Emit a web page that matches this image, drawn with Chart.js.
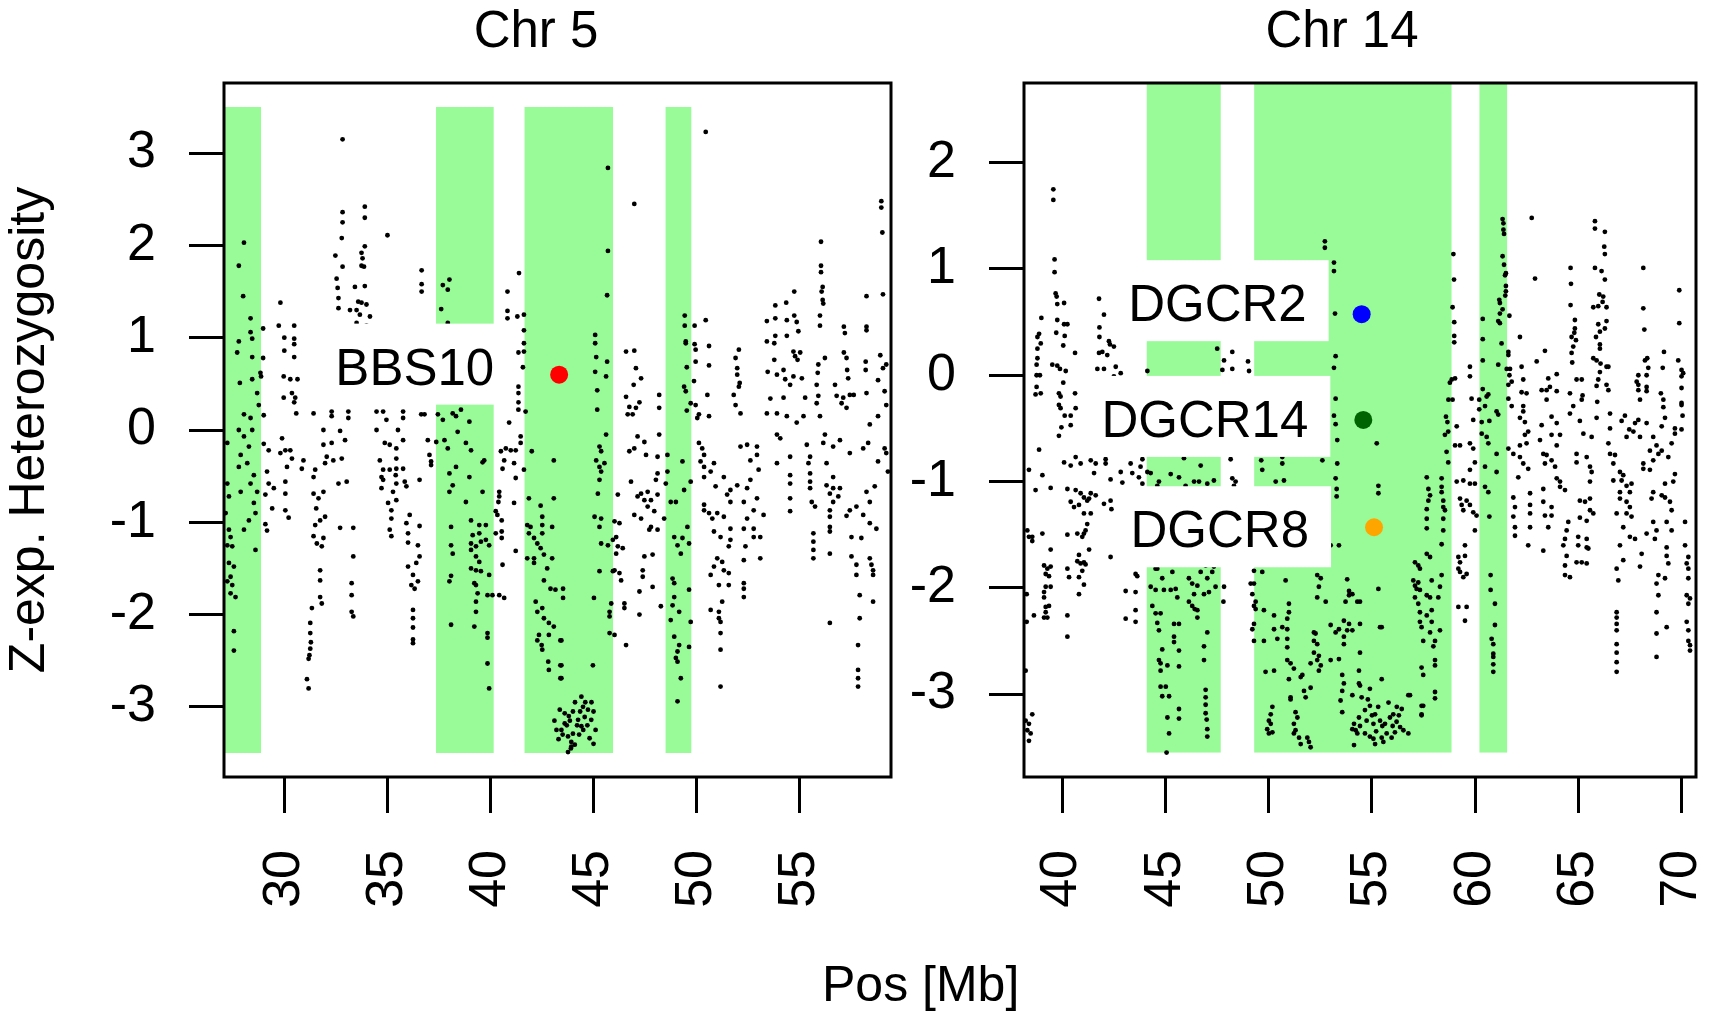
<!DOCTYPE html>
<html lang="en">
<head>
<meta charset="utf-8">
<title>Z-exp. Heterozygosity, Chr 5 and Chr 14</title>
<script src="https://cdn.jsdelivr.net/npm/chart.js@4.4.1/dist/chart.umd.min.js"></script>
<style>
  html, body { margin: 0; padding: 0; background: #fff; }
  body { position: relative; width: 1719px; height: 1013px; overflow: hidden;
         font-family: "Liberation Sans", Arial, Helvetica, sans-serif; color: #000; }
  #chr5 { position: absolute; left: 0; top: 0; }
  #chr14 { position: absolute; left: 900px; top: 0; }
  .txt { position: absolute; white-space: nowrap; }
  .panelTitle { font-size: 51px; line-height: 51px; top: 4px; transform: translateX(-50%); }
</style>
</head>
<body>
<canvas id="chr5" width="900" height="1013"></canvas>
<canvas id="chr14" width="819" height="1013"></canvas>
<div class="txt panelTitle" style="left:536px">Chr 5</div>
<div class="txt panelTitle" style="left:1342px">Chr 14</div>
<div class="txt" style="left:822px; top:959px; font-size:50px; line-height:50px">Pos [Mb]</div>
<script>
// ---- data: [position in Mb, Z] ----
const chr5Points = [
  [28.02,2.03],[27.77,1.78],[27.98,1.45],[28.34,1.21],[27.77,0.96],[28.34,1.06],[28.42,0.99],[27.69,0.84],[28.42,0.79],[27.82,0.51],
  [28.42,0.55],[28.66,0.4],[28.74,0.27],[28.02,0.17],[28.34,0.13],[28.98,0.16],[28.95,1.1],[28.82,0.62],[28.85,0.58],[28.95,0.78],
  [29.79,1.38],[29.71,1.13],[30.46,1.13],[29.98,1.0],[30.46,0.99],[30.46,0.93],[29.98,0.86],[30.46,0.79],[29.95,0.58],[30.27,0.55],
  [30.62,0.55],[29.95,0.35],[30.35,0.4],[30.51,0.35],[30.46,0.3],[30.56,0.18],
  [32.81,3.15],[32.81,2.36],[32.81,2.25],[32.77,2.08],[33.89,2.42],[33.89,2.3],[34.99,2.11],[32.46,1.89],[32.81,1.77],[33.89,1.99],
  [33.73,1.92],[33.78,1.86],[33.73,1.78],[33.85,1.77],[32.52,1.64],[32.57,1.54],[32.61,1.43],[32.61,1.32],[33.41,1.55],[33.89,1.56],
  [33.57,1.39],[33.73,1.38],[33.97,1.36],[33.17,1.3],[33.49,1.3],[33.65,1.25],[34.14,1.23],[33.49,1.16],[33.97,1.13],
  [36.65,1.73],[36.65,1.58],[36.65,1.5],[37.68,1.57],[38.0,1.63],[37.92,1.52],[37.6,1.31],[37.92,1.16],
  [40.82,1.5],[41.38,1.7],[40.82,1.29],[40.82,1.21],[41.3,1.23],[41.62,1.25],[41.62,1.08],[41.62,0.94],[41.35,0.84],[41.62,0.85],
  [41.57,0.68],[41.35,0.47],[41.35,0.4],[41.35,0.3],[41.35,0.22],[41.7,0.2],[40.9,0.08],
  [31.4,0.18],[32.28,0.2],[32.28,0.15],[33.09,0.2],[33.09,0.13],[34.46,0.2],[34.78,0.2],[34.94,0.11],[35.75,0.2],[35.75,0.13],
  [36.63,0.17],[36.79,0.17],[37.44,0.17],[37.68,0.11],[38.16,0.18],[38.56,0.22],[38.97,0.09],[38.32,0.15],[31.88,0.0],[32.69,-0.01],
  [34.46,0.0],[35.5,0.0],[27.77,0.0],[28.42,0.0],
  [45.7,2.84],[46.98,2.45],[50.45,3.23],[45.7,1.94],[45.66,1.46],[45.08,1.03],[45.08,0.94],[45.13,0.79],[45.08,0.63],[45.18,0.43],
  [45.18,0.22],[45.66,0.74],[45.61,0.58],[46.58,0.85],[46.98,0.86],[47.06,0.67],[47.31,0.56],[46.95,0.49],[46.58,0.36],[46.74,0.25],
  [47.06,0.24],[47.23,0.3],[46.66,0.17],[46.9,0.17],[48.19,0.38],[48.19,0.24],[49.43,1.24],[49.43,1.13],[49.48,0.96],[49.48,0.94],
  [49.53,0.68],[49.4,0.47],[49.48,0.42],[49.53,0.21],[49.91,1.13],[49.91,0.93],[49.96,0.87],[49.96,0.74],[49.88,0.53],[50.45,1.19],
  [50.61,0.91],[50.61,0.7],[50.53,0.38],[50.61,0.15],[49.72,0.29],[49.96,0.27],[50.12,0.17],[50.04,0.13],
  [52.06,0.87],[51.9,0.78],[51.98,0.67],[51.98,0.6],[52.1,0.51],[52.06,0.47],[51.81,0.38],[51.9,0.27],[52.14,0.18],
  [53.42,1.18],[53.83,1.21],[53.83,1.35],[54.36,1.38],[54.39,1.19],[54.87,1.17],[54.75,1.5],[54.75,1.24],[53.42,0.96],[53.83,1.02],
  [53.78,0.94],[54.39,1.02],[54.95,1.07],[53.78,0.76],[54.71,0.85],[54.79,0.8],[54.91,0.76],[55.04,0.84],[53.46,0.63],[53.91,0.6],
  [54.23,0.65],[54.31,0.55],[54.71,0.58],[55.12,0.56],[54.55,0.49],[53.59,0.34],[54.23,0.35],[55.28,0.35],[53.42,0.18],[53.91,0.18],
  [54.39,0.15],[55.2,0.15],[54.87,0.08],
  [56.05,2.04],[56.05,1.78],[56.05,1.71],[56.13,1.55],[56.08,1.5],[56.13,1.41],[56.16,1.37],[56.0,1.24],[56.0,1.13],[55.92,0.71],
  [55.89,0.62],[55.84,0.49],[55.92,0.37],[55.84,0.29],[56.0,0.15],[56.24,0.78],[57.16,1.12],[57.21,1.05],[57.16,0.84],[57.29,0.78],
  [57.32,0.65],[57.37,0.56],[56.73,0.49],[56.81,0.37],[57.13,0.35],[57.45,0.38],[57.64,0.38],[57.05,0.29],[57.29,0.24],[58.26,1.45],
  [58.26,1.12],[58.26,1.08],[58.22,0.74],[58.22,0.65],[58.98,2.48],[58.98,2.41],[59.03,2.14],[59.06,1.47],[58.93,0.81],[59.22,0.71],
  [59.06,0.67],[58.82,0.54],[58.26,0.4],[59.14,0.42],[59.22,0.27],[58.82,0.15],[58.42,0.06],
  [27.21,-0.14],[27.86,-0.27],[28.26,-0.18],[28.18,-0.36],[28.5,-0.49],[27.86,-0.67],[28.34,-0.58],[28.66,-0.67],[27.21,-0.58],[27.29,-0.72],
  [27.13,-0.9],[27.29,-1.08],[27.37,-1.16],[27.21,-1.25],[27.45,-1.26],[27.29,-1.44],[27.53,-1.48],[27.37,-1.59],[27.21,-1.64],[27.45,-1.68],
  [27.37,-1.77],[27.61,-1.81],[28.02,-1.08],[28.58,-0.9],[28.58,-1.3],[28.5,-0.79],[28.26,-0.98],[27.53,-2.18],[27.53,-2.39],[27.77,-0.4],
  [28.02,-0.07],
  [28.98,-0.15],[29.22,-0.22],[29.87,-0.09],[29.79,-0.25],[30.03,-0.22],[30.27,-0.22],[30.35,-0.31],[30.11,-0.4],[29.14,-0.45],[29.22,-0.58],
  [29.06,-0.7],[29.47,-0.63],[30.03,-0.56],[30.03,-0.69],[29.39,-0.85],[30.03,-0.87],[30.19,-0.95],[29.06,-1.02],[29.14,-1.09],[30.83,-0.42],
  [30.91,-0.33],[31.48,-0.43],[31.4,-0.51],
  [31.4,-0.69],[31.88,-0.67],[31.64,-0.74],[31.53,-0.85],[31.96,-0.94],[31.72,-0.98],[31.48,-1.03],[31.4,-1.15],[31.88,-1.17],[31.56,-1.23],
  [31.8,-1.26],[32.69,-1.06],[33.33,-1.06],[33.33,-1.37],[31.72,-1.52],[31.72,-1.63],[33.25,-1.66],[33.25,-1.79],[31.72,-1.81],[31.8,-1.88],
  [33.25,-1.97],[33.33,-2.02],[31.32,-1.93],[31.24,-2.09],[31.24,-2.2],[31.27,-2.3],[31.24,-2.37],[31.2,-2.44],[31.16,-2.48],[31.08,-2.7],
  [31.16,-2.8],[31.96,-0.36],[32.04,-0.29],[32.36,-0.33],[32.77,-0.31],[32.93,-0.11],[32.61,-0.58],[33.01,-0.56],[31.88,-0.16],[32.28,-0.14],
  [34.62,-0.33],[34.86,-0.14],[35.1,-0.16],[35.42,-0.2],[35.75,-0.11],[35.42,-0.31],[34.78,-0.43],[35.1,-0.43],[35.42,-0.42],[35.75,-0.42],
  [34.7,-0.51],[34.78,-0.54],[35.39,-0.49],[35.42,-0.58],[35.83,-0.56],[35.91,-0.61],[34.7,-0.63],[35.26,-0.67],[36.55,-0.54],[35.02,-0.79],
  [35.42,-0.76],[35.18,-0.87],[35.18,-0.96],[35.1,-1.08],[35.18,-1.15],[36.07,-0.92],[35.91,-1.01],[36.55,-1.04],[35.99,-1.12],[35.99,-1.22],
  [36.47,-1.25],[36.55,-1.37],[36.39,-1.44],[35.99,-1.48],[36.23,-1.57],[36.47,-1.64],[36.15,-1.68],[36.31,-1.72],[36.23,-1.95],[36.23,-2.04],
  [36.23,-2.14],[36.23,-2.27],[36.23,-2.31],[36.95,-0.11],[37.03,-0.27],[37.11,-0.34],[37.11,-0.38],
  [37.36,-0.13],[37.76,-0.11],[37.92,-0.2],[38.4,-0.02],[38.8,-0.14],[39.05,-0.22],[38.32,-0.4],[38.0,-0.47],[38.97,-0.51],[38.16,-0.6],
  [38.0,-0.67],[39.61,-0.67],[38.8,-0.78],[39.05,-0.98],[39.45,-1.03],[39.77,-1.03],[38.08,-1.05],[39.13,-1.14],[39.45,-1.12],[39.05,-1.23],
  [39.29,-1.26],[39.53,-1.21],[39.77,-1.19],[39.93,-1.25],[38.08,-1.25],[38.16,-1.34],[39.05,-1.3],[39.29,-1.37],[39.45,-1.43],[39.05,-1.5],
  [39.29,-1.52],[39.53,-1.53],[39.93,-1.57],[38.08,-1.58],[38.0,-1.64],[39.21,-1.66],[39.29,-1.68],[39.37,-1.77],[39.85,-1.79],[40.09,-1.79],
  [39.29,-1.86],[39.29,-1.97],[39.21,-2.13],[38.08,-2.11],[39.85,-2.2],[39.85,-2.25],[39.85,-2.53],[39.93,-2.8],[39.69,-0.33],[39.61,-0.35],
  [40.5,-0.23],[40.74,-0.2],[40.98,-0.22],[41.22,-0.22],[40.66,-0.33],[41.14,-0.36],[40.58,-0.42],[41.46,-0.07],[41.46,-0.14],[41.62,-0.43],
  [41.22,-0.52],[40.42,-0.67],[40.42,-0.72],[40.38,-0.78],[40.25,-0.88],[40.33,-0.92],[40.54,-0.98],[41.14,-0.79],[40.54,-1.1],[40.54,-1.17],
  [40.25,-1.12],[41.22,-1.31],[40.58,-1.46],[40.42,-1.79],[40.66,-1.82],
  [42.0,-0.23],[43.07,-0.33],[41.86,-0.74],[43.07,-0.74],[42.43,-0.82],[42.51,-0.94],[41.78,-1.03],[41.94,-1.05],[42.51,-1.03],[42.99,-1.05],
  [41.86,-1.12],[42.11,-1.17],[42.51,-1.12],[42.27,-1.23],[42.43,-1.28],[42.59,-1.35],[42.99,-1.39],[41.78,-1.39],[42.11,-1.39],[42.11,-1.44],
  [42.75,-1.5],[42.59,-1.63],[42.91,-1.72],[43.15,-1.73],[42.19,-1.86],[42.51,-1.93],[42.27,-1.97],[42.59,-2.04],[42.83,-2.09],[43.07,-2.13],
  [42.35,-2.22],[42.83,-2.22],[42.27,-2.28],[42.48,-2.33],[42.51,-2.38],[42.8,-2.51],[42.83,-2.6],[43.39,-2.28],[43.39,-2.55],[43.39,-2.69],
  [45.61,-0.05],[45.29,-0.18],[45.37,-0.23],[45.13,-0.33],[45.29,-0.4],[45.37,-0.45],[45.53,-0.36],[45.29,-0.54],[45.21,-0.69],[45.05,-0.94],
  [45.37,-0.96],[45.29,-1.05],[45.37,-1.23],[45.7,-1.25],[45.29,-1.53],[45.94,-1.53],[43.52,-1.72],[43.52,-1.82],[45.02,-1.82],[43.44,-2.28],
  [43.44,-2.55],[44.97,-2.55],[43.44,-2.69],
  [43.36,-3.03],[43.6,-3.07],[44.41,-2.89],[44.49,-3.0],[44.57,-3.11],[44.25,-3.14],[44.41,-3.21],[44.73,-3.03],[44.89,-3.14],[43.6,-3.18],
  [44.0,-3.29],[43.76,-3.32],[43.92,-3.38],[44.09,-3.41],[44.81,-3.34],[43.76,-3.49],[43.92,-3.43],[43.44,-3.25],[43.1,-3.15],[43.2,-3.25],
  [43.3,-3.35],[43.5,-3.3],[43.7,-3.2],[43.8,-3.1],[44.0,-3.05],[44.1,-2.95],[44.2,-3.2],[44.3,-3.3],[44.6,-2.95],[44.7,-3.2],
  [44.9,-2.95],[45.0,-3.05],[45.1,-3.25],[45.0,-3.4],[44.5,-3.25],[43.9,-3.45],[43.85,-3.15],[44.35,-3.05],
  [46.18,-0.7],[46.02,-0.99],[46.26,-1.01],[46.1,-1.16],[45.94,-1.19],[46.18,-1.26],[46.42,-1.28],[46.1,-1.34],[46.02,-1.52],[46.26,-1.55],
  [46.34,-1.63],[45.86,-1.88],[45.78,-1.97],[45.78,-2.02],[46.5,-1.88],[46.5,-1.93],[47.23,-2.0],[45.78,-2.2],[46.02,-2.22],[46.58,-2.33],
  [46.74,-0.23],[47.14,-0.07],[47.55,-0.27],[46.98,-0.2],[46.82,-0.56],[47.31,-0.69],[47.63,-0.67],[47.14,-0.72],[47.47,-0.76],[47.79,-0.76],
  [48.11,-0.7],[47.63,-0.83],[47.95,-0.88],[48.43,-0.96],[47.79,-1.05],[47.71,-1.08],[48.11,-1.08],[47.47,-1.37],[47.87,-1.35],[47.39,-1.52],
  [47.39,-1.59],[47.87,-1.7],[47.23,-1.75],[48.27,-1.91],[46.98,-0.92],[47.31,-0.96],[48.03,-0.54],[48.51,-0.58],[48.11,-0.47],[48.59,-0.45],
  [48.11,-0.29],[48.19,-0.05],[47.47,-0.13],
  [49.32,-0.34],[48.59,-0.27],[48.75,-0.78],[49.0,-0.78],[49.4,-0.65],[49.72,-0.56],[49.56,-1.05],[48.92,-1.16],[49.08,-1.25],[49.32,-1.17],
  [49.64,-1.23],[49.24,-1.34],[48.84,-1.61],[48.92,-1.66],[49.64,-1.73],[48.92,-1.81],[48.84,-1.9],[49.16,-1.97],[48.75,-2.06],[49.72,-2.08],
  [48.92,-2.24],[49.16,-2.33],[49.08,-2.4],[49.64,-2.35],[49.0,-2.47],[49.08,-2.51],[49.24,-2.69],[49.08,-2.94],
  [50.12,-0.14],[50.28,-0.2],[50.37,-0.27],[50.2,-0.34],[50.37,-0.4],[50.69,-0.45],[50.37,-0.51],[50.85,-0.36],[50.93,-0.61],[50.37,-0.81],
  [50.37,-0.87],[50.61,-0.9],[51.01,-0.9],[50.77,-0.96],[51.33,-0.94],[51.49,-0.7],[51.65,-0.78],[51.65,-0.65],[51.98,-0.6],[51.33,-0.51],
  [52.14,-0.18],[52.46,-0.16],[52.94,-0.18],[52.94,-0.27],[52.62,-0.33],[53.02,-0.43],[52.62,-0.54],[52.46,-0.63],[52.94,-0.74],[52.3,-0.78],
  [52.78,-0.87],[52.46,-0.96],[53.26,-0.92],[52.3,-1.07],[52.78,-1.07],[53.1,-1.16],[52.78,-1.16],[50.85,-1.1],[51.65,-1.07],[51.65,-1.19],
  [51.17,-1.16],[51.57,-1.26],[51.01,-1.39],[51.25,-1.43],[50.85,-1.48],[51.33,-1.52],[50.69,-1.57],[51.57,-1.55],[51.09,-1.68],[51.57,-1.68],
  [52.38,-1.26],[52.3,-1.41],[53.1,-1.39],[52.3,-1.66],[52.3,-1.72],[52.3,-1.81],[51.25,-1.86],[50.69,-1.95],[51.09,-1.97],[51.09,-2.04],
  [51.17,-2.08],[51.17,-2.2],[51.17,-2.38],[51.17,-2.78],
  [53.91,-0.05],[54.07,-0.09],[54.55,-0.29],[54.55,-0.49],[54.55,-0.58],[54.55,-0.74],[54.55,-0.88],[53.91,-0.36],[55.36,-0.16],[55.44,-0.36],
  [55.52,-0.47],[55.52,-0.56],[55.52,-0.63],[55.6,-0.78],[55.76,-0.83],[55.52,-0.29],[56.16,-0.14],[56.32,-0.36],[56.64,-0.51],[56.32,-0.6],
  [56.64,-0.63],[56.97,-0.63],[56.48,-0.69],[56.89,-0.72],[56.64,-0.78],[56.24,-0.05],[56.64,-0.18],[56.97,-0.11],[57.45,-0.25],[58.1,-0.2],
  [58.34,-0.14],[58.82,-0.34],[58.66,-0.61],[58.26,-0.67],[58.42,-0.78],[57.77,-0.83],[57.45,-0.87],[57.29,-0.93],[58.1,-0.92],[58.42,-1.01],
  [58.74,-1.07],[56.48,-0.87],[56.48,-0.94],[56.48,-1.05],[56.48,-1.1],[55.68,-1.12],[55.68,-1.21],[55.68,-1.3],[55.68,-1.39],[56.48,-1.34],
  [57.53,-1.16],[58.01,-1.17],[57.53,-1.37],[57.77,-1.46],[58.42,-1.39],[58.5,-1.46],[58.58,-1.52],[58.58,-1.57],[57.77,-1.57],[57.93,-1.79],
  [58.58,-1.86],[56.48,-2.09],[57.93,-2.04],[57.85,-2.33],[57.85,-2.6],[57.85,-2.69],[57.85,-2.78],[59.14,-0.2],[59.22,-0.25],[59.3,-0.45]
];

const chr14Points = [
  [39.58,1.75],[39.58,1.65],[39.64,1.09],[39.64,0.97],[39.69,0.77],[39.74,0.74],[39.77,0.67],[40.1,0.68],[39.77,0.52],[40.1,0.48],
  [40.26,0.48],[39.72,0.4],[40.13,0.37],[40.06,0.28],[39.0,0.54],[38.89,0.39],[38.81,0.36],[38.97,0.3],[38.81,0.25],[38.81,0.16],
  [38.77,0.1],[38.77,0.0],[38.93,0.0],[38.77,-0.11],[38.72,-0.18],[38.97,-0.17],[39.53,0.1],[39.77,0.09],[39.9,0.06],[40.18,0.04],
  [40.06,-0.07],[39.85,-0.17],[39.93,-0.2],[40.63,0.21],[40.63,-0.17],[39.85,-0.28],[39.93,-0.31],[40.13,-0.38],[40.42,-0.38],[40.66,-0.31],
  [39.97,-0.49],[40.42,-0.47],
  [41.79,0.72],[42.03,0.57],[41.81,0.45],[41.81,0.36],[42.27,0.32],[42.32,0.29],[42.51,0.27],[41.79,0.21],[41.95,0.22],[42.19,0.19],
  [42.6,0.08],[41.71,0.06],[42.03,0.06],[42.84,0.02],[42.51,-0.01],[44.13,0.04],[47.51,0.25],[47.84,0.14],[48.24,0.22],[48.24,0.06],
  [47.76,0.05],[49.0,0.13],[49.05,0.04],[52.72,1.26],[52.72,1.2],[53.16,1.06],[53.16,0.98],[53.21,0.58],[53.24,0.18],[53.16,0.07],
  [53.24,-0.22],[53.16,-0.38],[53.24,-0.46],
  [58.94,1.14],[58.97,0.9],[58.9,0.64],[58.98,0.5],[58.98,0.37],[58.98,0.31],[58.86,-0.04],[59.02,-0.03],[58.77,-0.07],[58.7,-0.23],
  [58.9,-0.23],[58.58,-0.39],[58.65,-0.44],[59.1,-0.48],[59.74,0.08],[59.74,-0.01],[59.82,-0.22],[60.19,-0.23],[59.9,-0.42],[60.31,-0.44],
  [60.36,0.53],[60.36,0.34],[60.36,0.14],[60.36,-0.13],[60.55,-0.2],[60.63,-0.18],[60.19,-0.32],[60.47,-0.29],[61.03,-0.34],[61.11,-0.37],
  [60.68,-0.43],[61.32,1.47],[61.36,1.43],[61.36,1.37],[61.39,1.33],[61.32,1.12],[61.39,1.04],[61.48,0.96],[61.44,0.94],[61.48,0.84],
  [61.48,0.79],[61.45,0.75],[61.16,0.71],[61.19,0.68],[61.32,0.62],[61.19,0.58],[61.11,0.51],[61.19,0.49],[61.65,0.56],[61.27,0.3],
  [61.11,0.1],[61.6,0.22],[61.6,0.19],[61.52,0.06],[61.68,0.06],[61.65,0.0],[61.76,-0.06],[61.6,-0.09],[61.6,-0.22],[61.76,-0.29],
  [62.73,1.48],[62.89,0.91],[62.16,0.36],[62.24,0.08],[62.32,-0.04],[62.24,-0.16],[62.48,-0.17],[62.32,-0.29],[62.32,-0.34],[62.16,-0.4],
  [62.4,-0.44],[63.37,0.23],[62.97,0.13],[63.94,0.01],[63.53,-0.03],[63.61,-0.11],[63.45,-0.14],[63.21,-0.14],[63.94,-0.15],[63.45,-0.23],
  [63.69,-0.39],[63.94,-0.45],[63.21,-0.47],[64.61,1.01],[64.63,0.86],[64.61,0.66],[64.82,0.52],[64.82,0.44],[64.79,0.4],[64.87,0.33],
  [64.66,0.36],[64.74,0.27],[64.66,0.21],[64.69,0.12],[64.9,-0.04],[65.15,-0.04],[64.58,-0.17],[65.19,-0.19],[64.74,-0.29],[65.15,-0.23],
  [64.58,-0.36],[65.06,-0.43],
  [65.79,1.45],[65.79,1.38],[66.27,1.35],[66.24,1.21],[66.27,1.14],[65.79,1.01],[66.11,0.98],[66.27,0.9],[66.0,0.76],[66.19,0.74],
  [66.16,0.69],[65.71,0.64],[65.95,0.65],[66.35,0.64],[66.35,0.51],[65.95,0.48],[66.27,0.44],[65.84,0.36],[66.03,0.41],[66.03,0.29],
  [66.03,0.25],[65.71,0.16],[65.87,0.14],[66.06,0.11],[66.35,0.08],[66.44,0.08],[66.03,0.03],[65.95,-0.04],[65.87,-0.1],[66.35,-0.09],
  [66.44,-0.14],[65.9,-0.25],[65.87,-0.4],[66.52,-0.36],[66.52,-0.5],[67.24,-0.38],[67.08,-0.43],[67.45,-0.51],
  [68.13,1.01],[68.13,0.63],[68.18,0.43],[68.32,0.16],[68.21,0.14],[68.37,0.07],[68.29,0.0],[67.89,0.0],[67.81,-0.06],[67.89,-0.09],
  [67.89,-0.14],[68.29,-0.11],[68.29,-0.15],[67.97,-0.23],[67.89,-0.42],[67.73,-0.45],[68.29,-0.45],[68.98,-0.17],[69.1,-0.23],[69.1,-0.3],
  [69.13,0.22],[69.07,0.07],[69.18,-0.4],[69.02,-0.48],[69.87,0.8],[69.87,0.49],[69.82,0.14],[69.98,0.05],[70.06,0.02],[69.98,-0.01],
  [69.98,-0.12],[69.98,-0.26],[69.98,-0.28],[70.03,-0.38],[69.66,-0.5],[69.98,-0.51],
  [38.89,-0.7],[38.4,-0.89],[39.05,-0.94],[38.72,-1.08],[39.45,-1.06],[39.85,-0.57],[40.1,-0.82],[40.42,-0.85],[40.66,-0.77],[40.9,-0.83],
  [41.39,-0.8],[41.63,-0.83],[41.55,-0.92],[42.11,-0.79],[42.11,-0.83],[42.35,-0.98],[42.84,-0.91],[43.32,-0.83],[43.4,-0.92],[43.8,-0.86],
  [43.89,-0.79],[42.92,-1.01],[43.89,-1.02],[43.72,-0.96],[44.29,-0.92],
  [40.26,-1.07],[40.66,-1.08],[40.9,-1.11],[41.06,-1.15],[41.39,-1.11],[41.63,-1.13],[40.42,-1.19],[40.58,-1.24],[40.82,-1.22],[41.22,-1.18],
  [41.31,-1.16],[42.03,-1.21],[41.06,-1.3],[41.39,-1.3],[41.22,-1.4],[41.14,-1.46],[40.74,-1.49],[41.06,-1.49],[40.98,-1.52],[42.35,-1.18],
  [42.39,-1.26],
  [38.32,-1.46],[38.4,-1.52],[38.56,-1.52],[39.05,-1.49],[38.56,-1.56],[39.45,-1.64],[40.26,-1.5],[40.82,-1.69],[41.31,-1.64],[40.74,-1.75],
  [40.9,-1.77],[41.06,-1.76],[41.14,-1.78],[40.98,-1.84],[40.82,-1.9],[41.06,-1.97],[40.82,-2.06],
  [39.13,-1.79],[39.29,-1.82],[39.45,-1.8],[39.21,-1.87],[39.37,-1.89],[39.21,-1.99],[39.13,-2.04],[39.45,-1.99],[39.13,-2.09],[39.21,-2.18],
  [39.37,-2.17],[39.21,-2.23],[39.13,-2.28],[38.64,-2.26],[39.29,-2.28],[40.26,-1.82],[40.34,-1.9],[40.26,-2.26],[40.26,-2.46],[38.29,-2.06],
  [38.29,-2.32],[38.24,-2.78],[38.24,-3.25],[38.4,-3.28],[38.32,-3.34],[38.48,-3.37],[38.4,-3.44],[38.56,-3.19],
  [43.08,-2.03],[43.56,-2.04],[43.56,-2.21],[43.08,-2.29],[43.56,-2.32],[43.56,-1.87],[43.64,-1.89],[42.35,-1.71],[44.13,-0.91],
  [44.29,-1.76],[44.53,-1.82],[44.29,-1.99],[44.53,-2.02],[44.93,-2.02],[45.26,-2.02],[45.5,-2.01],[45.58,-2.09],[44.37,-2.17],[44.53,-2.24],
  [44.77,-2.24],[44.85,-1.91],[45.34,-1.85],[46.14,-1.91],[46.3,-1.96],[46.55,-1.98],[46.14,-2.13],[46.3,-2.17],[46.42,-2.2],[46.55,-2.21],
  [46.55,-2.28],[46.39,-2.06],[46.87,-2.06],[47.11,-2.04],[47.03,-1.91],[47.27,-1.85],[46.71,-1.85],[47.43,-1.99],[44.61,-2.33],[44.69,-2.4],
  [45.42,-2.34],[45.66,-2.34],[45.42,-2.46],[45.42,-2.51],[44.85,-2.58],[45.66,-2.59],[44.69,-2.68],[44.77,-2.71],[44.77,-2.78],[45.1,-2.73],
  [45.66,-2.74],[46.87,-2.55],[46.87,-2.68],[47.03,-2.42],[44.77,-2.93],[45.02,-2.93],[44.85,-3.02],[45.18,-3.02],[45.1,-3.22],[45.66,-3.14],
  [45.66,-3.23],[45.18,-3.37],[45.06,-3.55],[46.95,-2.96],[46.95,-3.03],[46.95,-3.1],[46.95,-3.18],[47.0,-3.24],[47.03,-3.33],[47.03,-3.4],
  [47.11,-1.76],[46.95,-1.79],[47.35,-1.8],[44.93,-1.71],[45.26,-1.75],[46.06,-1.71],[46.39,-1.75],[46.22,-1.77],[44.61,-1.82],[45.26,-0.93],
  [45.66,-0.96],[45.9,-0.78],[46.71,-0.85],[46.39,-1.0],[46.63,-1.0],[47.03,-1.02],[47.35,-0.99],[45.98,-1.04],[44.69,-1.0],[44.61,-1.04],
  [47.84,-1.99],[47.81,-2.13],[48.24,-0.97],[48.4,-1.0],[48.32,-1.04],[48.16,-0.79],
  [49.64,-0.8],[49.69,-0.89],[50.66,-0.77],[50.66,-0.83],[50.34,-1.0],[50.74,-0.99],[52.6,-0.8],[53.32,-0.83],[53.32,-0.61],[53.24,-0.97],
  [53.29,-1.07],[53.29,-1.14],[53.0,-1.6],[53.4,-1.6],[49.29,-1.84],[49.69,-1.85],[50.82,-1.93],[52.35,-1.88],[52.52,-1.91],[52.43,-1.99],
  [52.35,-2.09],[52.76,-2.13],[53.8,-1.92],[53.89,-2.03],[53.89,-2.07],[54.05,-2.06],[53.72,-2.13],[54.29,-2.13],[49.13,-1.96],[49.29,-1.96],
  [49.21,-2.06],[49.37,-2.13],[49.29,-2.17],[49.37,-2.2],[49.77,-2.21],[50.26,-2.26],[50.98,-2.15],[50.98,-2.23],[50.9,-2.29],[50.9,-2.39],
  [50.26,-2.39],[50.66,-2.37],[49.29,-2.34],[49.21,-2.39],[49.29,-2.5],[49.77,-2.5],[50.42,-2.48],[50.9,-2.48],[50.9,-2.56],[49.85,-2.79],
  [50.26,-2.78],[50.9,-2.68],[51.06,-2.71],[51.22,-2.76],[51.63,-2.82],[50.98,-2.86],[51.06,-3.03],[51.06,-3.05],[51.79,-3.03],[50.18,-3.12],
  [50.1,-3.19],[50.01,-3.25],[50.1,-3.28],[49.93,-3.33],[50.18,-3.36],[50.01,-3.37],[51.3,-3.17],[51.39,-3.22],[51.22,-3.28],[51.3,-3.34],
  [51.22,-3.37],[51.47,-3.41],[51.55,-3.47],[51.87,-3.41],[51.95,-3.45],[52.03,-3.5],[51.55,-2.84],[51.71,-2.97],[52.03,-2.94],[52.19,-2.5],
  [52.35,-2.53],[52.19,-2.61],[52.43,-2.64],[52.35,-2.68],[52.52,-2.73],[52.43,-2.78],[52.03,-2.71],[52.19,-2.42],[52.27,-2.43],[53.0,-2.35],
  [53.4,-2.39],[53.24,-2.42],[53.64,-2.31],[53.89,-2.34],[53.8,-2.4],[53.0,-2.68],[53.4,-2.67],[53.64,-2.46],[53.64,-2.53],[54.05,-2.4],
  [53.56,-2.82],[53.64,-2.9],[53.56,-2.97],[54.05,-3.01],[53.48,-3.06],[54.37,-2.78],[54.37,-2.9],[53.56,-3.17],[54.13,-3.28],[54.21,-3.34],
  [54.29,-3.37],[54.05,-3.33],[54.13,-3.48],[54.37,-3.22],
  [55.23,-0.64],[55.31,-1.04],[55.31,-1.11],[55.31,-2.01],[55.39,-2.37],[55.47,-2.37],[55.47,-2.86],[54.42,-2.13],[54.42,-2.34],[54.42,-2.61],
  [54.42,-2.92],[54.9,-2.95],
  [54.66,-3.15],[54.9,-3.11],[55.15,-3.19],[54.74,-3.25],[55.07,-3.28],[54.42,-3.3],[55.39,-3.25],[55.63,-3.28],[55.87,-3.22],[56.03,-3.19],
  [56.19,-3.26],[56.36,-3.31],[56.52,-3.34],[56.76,-3.37],[55.71,-3.37],[55.95,-3.41],[55.47,-3.41],[55.07,-3.42],[55.15,-3.47],[55.55,-3.45],
  [54.66,-3.37],[56.11,-3.36],[56.44,-3.14],[56.76,-3.01],[57.4,-3.11],[57.4,-3.19],[54.5,-3.03],[54.8,-3.05],[55.0,-3.2],[55.3,-3.12],
  [55.5,-3.3],[55.8,-3.08],[56.0,-3.3],[56.2,-3.12],[56.3,-3.2],[55.2,-3.35],[54.9,-3.4],
  [57.65,-0.96],[57.73,-1.07],[57.81,-1.13],[57.73,-1.18],[57.65,-1.26],[57.65,-1.35],[57.65,-1.44],[58.37,-0.97],[58.37,-1.05],[58.37,-1.1],
  [58.45,-1.18],[58.45,-1.24],[58.53,-1.27],[58.45,-1.35],[58.45,-1.46],[58.37,-1.59],[58.69,-0.82],[58.61,-0.72],[58.69,-0.53],[58.53,-0.56],
  [57.08,-1.76],[57.24,-1.79],[57.65,-1.68],[57.81,-1.71],[57.32,-1.82],[57.0,-1.93],[57.24,-1.95],[57.08,-1.98],[57.16,-2.01],[57.32,-2.02],
  [57.08,-2.09],[57.24,-2.15],[57.65,-2.07],[57.81,-2.09],[58.29,-1.99],[58.37,-1.88],[57.89,-1.93],[58.21,-2.09],[57.32,-2.23],[57.65,-2.26],
  [57.89,-2.21],[57.32,-2.32],[57.89,-2.32],[57.4,-2.37],[57.81,-2.42],[57.48,-2.5],[58.05,-2.5],[57.97,-2.55],[58.29,-2.4],[57.4,-2.75],
  [57.48,-2.82],[58.05,-2.68],[58.05,-2.73],[58.05,-2.98],[58.05,-3.04],[57.48,-3.11],[57.4,-3.2],[56.84,-3.01],
  [59.18,-1.71],[59.26,-1.76],[59.18,-1.82],[59.26,-1.85],[59.42,-1.9],[59.58,-1.87],[59.5,-1.7],[59.5,-1.6],[59.18,-2.18],[59.58,-2.18],
  [59.5,-2.31],[59.02,-0.66],[59.26,-0.66],[59.74,-0.64],[59.9,-0.69],[59.1,-1.0],[59.42,-0.99],[59.74,-1.02],[59.98,-1.02],[59.26,-1.16],
  [59.58,-1.18],[59.34,-1.22],[59.74,-1.22],[59.42,-1.27],[59.9,-1.29],[60.06,-1.32],[59.98,-1.46],[59.98,-0.82],[59.74,-0.89],[60.47,-1.05],
  [60.63,-1.1],[60.55,-0.58],[60.63,-0.64],[60.31,-0.55],[60.47,-0.86],[61.03,-0.91],[60.68,-1.33],[60.74,-1.88],[60.74,-2.02],[60.95,-2.15],
  [60.95,-2.35],[60.79,-2.48],[60.87,-2.53],[60.87,-2.62],[60.87,-2.65],[60.87,-2.72],[60.87,-2.79],[61.03,-0.74],
  [61.6,-0.69],[61.84,-0.74],[62.16,-0.77],[62.32,-0.83],[62.56,-0.88],[62.08,-0.96],[61.84,-1.15],[61.92,-1.24],[61.84,-1.33],[61.92,-1.43],
  [61.92,-1.51],[62.56,-1.6],[63.29,-1.65],[62.16,-0.66],[62.48,-0.64],[62.65,-1.11],[62.65,-1.22],[62.65,-1.3],[62.65,-1.43],[62.4,-0.56],
  [62.56,-0.53],[63.13,-0.61],[63.29,-0.74],[63.45,-0.75],[63.37,-0.83],[63.69,-0.8],[63.86,-0.86],[63.94,-0.66],[64.1,-0.56],[63.69,-0.56],
  [63.94,-0.97],[64.1,-1.0],[64.1,-1.05],[64.34,-1.08],[63.29,-1.07],[63.29,-1.19],[63.69,-1.24],[63.69,-1.32],[63.37,-1.32],[63.53,-1.43],
  [64.42,-1.46],[64.34,-1.54],[64.26,-1.6],[64.42,-1.7],[64.34,-1.79],[64.34,-1.88],[64.58,-1.9],[64.5,-1.38],
  [64.9,-0.74],[64.9,-0.82],[65.39,-0.77],[65.55,-0.86],[65.63,-0.91],[65.55,-1.0],[65.55,-1.16],[65.31,-1.19],[65.06,-1.18],[65.55,-1.27],
  [65.71,-1.3],[65.06,-1.34],[65.39,-1.37],[64.98,-1.52],[64.98,-1.6],[65.39,-1.54],[65.39,-1.62],[65.47,-1.63],[64.9,-1.76],[65.15,-1.76],
  [65.39,-1.77],[65.23,-0.55],[65.63,-0.58],[66.44,-0.64],[66.52,-0.74],[66.76,-0.75],[66.68,-0.83],[67.0,-0.91],[66.68,-0.99],[67.08,-0.99],
  [67.32,-1.04],[67.16,-0.94],[67.56,-1.02],[67.0,-1.1],[67.48,-1.1],[67.0,-1.16],[67.32,-1.19],[67.48,-1.24],[66.84,-1.3],[67.32,-1.3],
  [67.56,-1.33],[67.16,-1.43],[67.48,-1.52],[67.73,-1.54],[67.0,-1.6],[67.16,-1.74],[68.05,-1.68],[67.97,-1.8],[66.84,-1.82],[66.92,-1.93],
  [66.84,-2.23],[66.84,-2.28],[66.84,-2.34],[66.84,-2.4],[66.84,-2.53],[66.84,-2.61],[66.84,-2.7],[66.84,-2.79],
  [67.32,-0.58],[67.65,-0.53],[67.97,-0.58],[68.61,-0.58],[68.77,-0.66],[68.45,-0.71],[68.86,-0.74],[69.5,-0.64],[69.02,-0.71],[69.34,-0.77],
  [68.13,-0.83],[68.61,-0.8],[68.13,-0.88],[68.45,-0.89],[68.53,-1.16],[68.61,-1.1],[69.02,-1.13],[69.18,-1.15],[69.42,-1.19],[69.5,-1.27],
  [69.26,-1.38],[68.61,-1.38],[68.77,-1.46],[68.29,-1.49],[69.5,-1.46],[68.69,-1.54],[69.26,-1.62],[70.15,-1.6],[70.15,-1.38],[69.58,-1.0],
  [69.66,-0.93],[69.18,-1.02],[69.66,-0.55],[69.26,-1.7],[69.34,-1.77],[68.86,-1.88],[68.77,-1.96],[69.18,-1.91],[68.86,-2.07],[70.31,-1.71],
  [70.23,-1.77],[70.31,-1.82],[70.31,-1.91],[70.23,-2.07],[70.39,-2.1],[70.31,-2.15],[68.77,-2.23],[68.77,-2.43],[69.26,-2.37],[68.77,-2.65],
  [70.23,-2.32],[70.31,-2.4],[70.31,-2.5],[70.39,-2.54],[70.39,-2.59]
];

const chr5PosTicks = [30, 35, 40, 45, 50, 55];
const chr14PosTicks = [40, 45, 50, 55, 60, 65, 70];
const chr5ZTicks = [-3, -2, -1, 0, 1, 2, 3];
const chr14ZTicks = [-3, -2, -1, 0, 1, 2];

// highlighted regions (Mb)
const chr5BandStart = [27.05, 37.35, 41.65, 48.5];
const chr5BandEnd = [28.85, 40.15, 45.95, 49.75];
const chr14BandStart = [44.1, 49.3, 60.2];
const chr14BandEnd = [47.68, 58.85, 61.54];

// labelled genes
const chr5Genes = ['BBS10'];
const chr5GenePos = [43.33];
const chr5GeneZ = [0.6];
const chr14Genes = ['DGCR2', 'DGCR14', 'DGCR8'];
const chr14GenePos = [54.5, 54.58, 55.1];
const chr14GeneZ = [0.575, -0.42, -1.43];

Chart.defaults.font.family = '"Liberation Sans", Arial, Helvetica, sans-serif';
Chart.defaults.color = '#000';

// bands under the points, white label boxes over them, and the frame
const decor = {
  id: 'decor',
  beforeDatasetsDraw(chart, args, o) {
    const { ctx, chartArea: a, scales: { x, y } } = chart;
    ctx.save();
    ctx.beginPath();
    ctx.rect(a.left, a.top, a.width, a.height);
    ctx.clip();
    ctx.fillStyle = '#98fb98';
    const yTop = y.getPixelForValue(o.bandHigh);
    const yBot = y.getPixelForValue(o.bandLow);
    o.bandStart.forEach((s, i) => {
      const x0 = x.getPixelForValue(s);
      const x1 = x.getPixelForValue(o.bandEnd[i]);
      ctx.fillRect(x0, yTop, x1 - x0, yBot - yTop);
    });
    ctx.restore();
  },
  afterDatasetsDraw(chart, args, o) {
    const { ctx, scales: { x, y } } = chart;
    ctx.save();
    ctx.font = '51px "Liberation Sans", Arial, sans-serif';
    ctx.textAlign = 'right';
    ctx.textBaseline = 'alphabetic';
    o.genes.forEach((g, i) => {
      const px = x.getPixelForValue(o.genePos[i]);
      const py = y.getPixelForValue(o.geneZ[i]);
      const tx = px + o.textShift[i][0];
      const ty = py + o.textShift[i][1];
      const w = ctx.measureText(g).width;
      ctx.fillStyle = '#fff';
      ctx.fillRect(tx - w - 16, ty - 61, w + 38, 81);
      ctx.fillStyle = '#000';
      ctx.fillText(g, tx, ty);
    });
    ctx.restore();
  },
  afterDraw(chart) {
    const { ctx, chartArea: a } = chart;
    ctx.save();
    ctx.strokeStyle = '#000';
    ctx.lineWidth = 3;
    ctx.strokeRect(a.left, a.top, a.width, a.height);
    ctx.restore();
  }
};

function makePanel(id, p) {
  new Chart(document.getElementById(id), {
    type: 'scatter',
    data: {
      datasets: [
        {
          data: p.genePos.map((v, i) => ({ x: v, y: p.geneZ[i] })),
          pointRadius: 9,
          pointBackgroundColor: p.geneColors,
          pointBorderWidth: 0,
          order: 0
        },
        {
          data: p.points.map(d => ({ x: d[0], y: d[1] })),
          pointRadius: 2.4,
          pointBackgroundColor: '#000',
          pointBorderWidth: 0,
          order: 1
        }
      ]
    },
    options: {
      responsive: false,
      animation: false,
      events: [],
      layout: { padding: { left: 0, top: 83, right: p.rightPad, bottom: 76 } },
      plugins: {
        legend: { display: false },
        tooltip: { enabled: false },
        decor: {
          bandStart: p.bandStart, bandEnd: p.bandEnd, bandLow: p.bandLow, bandHigh: p.bandHigh,
          genes: p.genes, genePos: p.genePos, geneZ: p.geneZ, textShift: p.textShift
        }
      },
      scales: {
        x: {
          type: 'linear',
          min: p.xMin, max: p.xMax,
          afterFit(s) { s.height = 160; s.paddingLeft = 0; s.paddingRight = 0; },
          afterBuildTicks(s) { s.ticks = p.xTicks.map(v => ({ value: v })); },
          ticks: { font: { size: 52 }, color: '#000', padding: 37, minRotation: 90, maxRotation: 90, autoSkip: false },
          grid: { drawOnChartArea: false, drawTicks: true, tickLength: 36, tickWidth: 3, tickColor: '#000' },
          border: { display: false }
        },
        y: {
          type: 'linear',
          min: p.yMin, max: p.yMax,
          afterFit(s) { s.width = p.yWidth; s.paddingTop = 0; s.paddingBottom = 0; },
          afterBuildTicks(s) { s.ticks = p.yTicks.map(v => ({ value: v })); },
          ticks: { font: { size: 52 }, color: '#000', padding: 33 },
          grid: { drawOnChartArea: false, drawTicks: true, tickLength: 35, tickWidth: 3, tickColor: '#000' },
          border: { display: false },
          title: {
            display: !!p.yTitle, text: p.yTitle || '', color: '#000',
            font: { size: 50 }, padding: { top: 0, bottom: 0 }
          }
        }
      }
    },
    plugins: [decor]
  });
}

makePanel('chr5', {
  points: chr5Points,
  xMin: 27.05, xMax: 59.45, xTicks: chr5PosTicks,
  yMin: -3.76, yMax: 3.76, yTicks: chr5ZTicks,
  bandStart: chr5BandStart, bandEnd: chr5BandEnd, bandLow: -3.5, bandHigh: 3.5,
  genes: chr5Genes, genePos: chr5GenePos, geneZ: chr5GeneZ,
  geneColors: ['#ff0000'],
  textShift: [[-65, 10]],
  yWidth: 224, rightPad: 6,
  yTitle: 'Z-exp. Heterozygosity'
});

makePanel('chr14', {
  points: chr14Points,
  xMin: 38.16, xMax: 70.68, xTicks: chr14PosTicks,
  yMin: -3.78, yMax: 2.75, yTicks: chr14ZTicks,
  bandStart: chr14BandStart, bandEnd: chr14BandEnd, bandLow: -3.55, bandHigh: 3.5,
  genes: chr14Genes, genePos: chr14GenePos, geneZ: chr14GeneZ,
  geneColors: ['#0000ff', '#006400', '#ffa500'],
  textShift: [[-55, 7], [-55, 17], [-65, 20]],
  yWidth: 124, rightPad: 23,
  yTitle: ''
});
</script>
</body>
</html>
